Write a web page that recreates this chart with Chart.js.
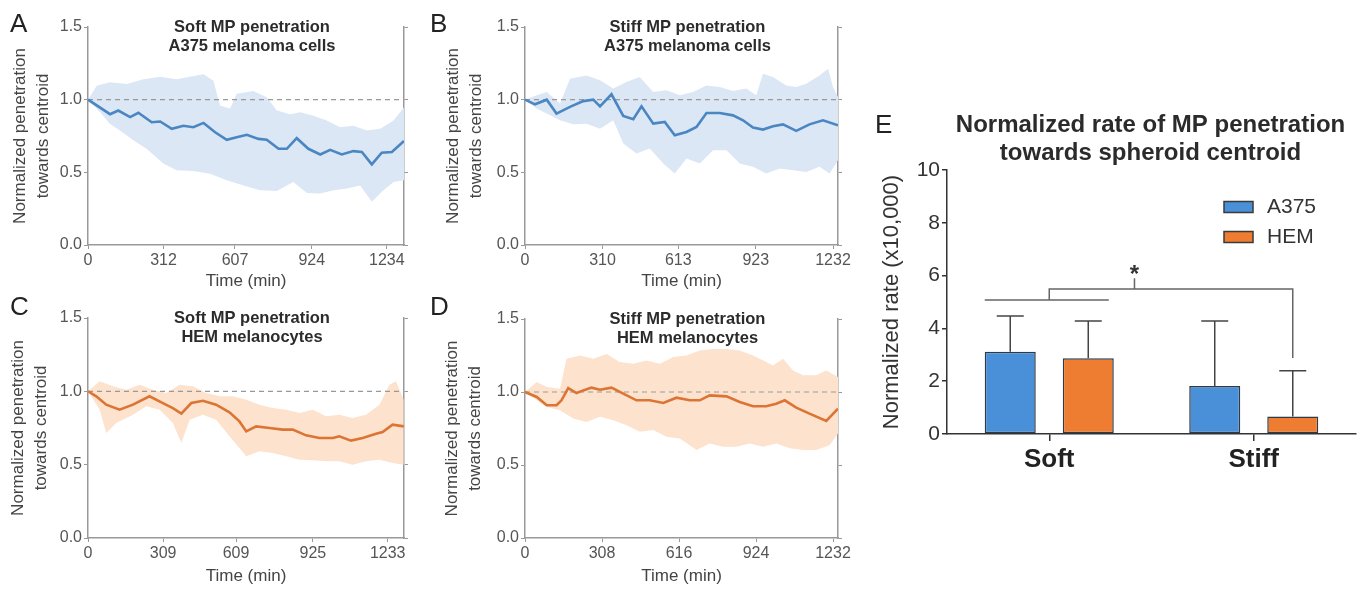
<!DOCTYPE html>
<html>
<head>
<meta charset="utf-8">
<script src="https://cdn.jsdelivr.net/npm/chart.js@4.4.0/dist/chart.umd.min.js"></script>
<style>
  body { margin: 0; background: #fff; }
  #wrap { position: relative; width: 1363px; height: 589px; background: #fff; overflow: hidden; }
  canvas { position: absolute; }
  .lt { position: absolute; font-family: 'Liberation Sans', Arial, sans-serif; font-size: 26px; line-height: 26px; color: #222; }
</style>
</head>
<body>
<div id="wrap">
  <canvas id="cA" width="420" height="290" style="left:0;top:0"></canvas>
  <canvas id="cB" width="440" height="290" style="left:420px;top:0"></canvas>
  <canvas id="cC" width="420" height="295" style="left:0;top:290px"></canvas>
  <canvas id="cD" width="440" height="295" style="left:420px;top:290px"></canvas>
  <canvas id="cE" width="503" height="405" style="left:860px;top:95px"></canvas>
  <div class="lt" style="left:10px;top:10px">A</div>
  <div class="lt" style="left:430px;top:10px">B</div>
  <div class="lt" style="left:10px;top:293px">C</div>
  <div class="lt" style="left:430px;top:293px">D</div>
  <div class="lt" style="left:875px;top:111px">E</div>
</div>
<script>
// ---- data ----
// A: soft MP, A375
var aTicks = [0, 312, 607, 924, 1234];
var aMeanT = [0,91,125,174,208,263,298,346,394,435,477,525,573,614,656,704,738,787,821,862,910,959,1000,1048,1096,1131,1172,1213,1255,1305];
var aMean  = [1.0,0.90,0.925,0.88,0.91,0.845,0.85,0.80,0.82,0.81,0.84,0.776,0.724,0.742,0.758,0.73,0.724,0.662,0.662,0.735,0.662,0.623,0.655,0.623,0.646,0.64,0.555,0.635,0.64,0.715];
var aUpT = [0,36,91,160,229,298,366,421,477,518,545,587,614,683,738,780,835,876,931,986,1041,1096,1151,1207,1262,1305];
var aUp  = [1.0,1.096,1.12,1.107,1.14,1.157,1.14,1.157,1.175,1.13,0.96,0.94,1.04,1.06,1.016,0.925,0.90,0.913,0.89,0.856,0.81,0.82,0.788,0.80,0.856,0.947];
var aLoT = [0,50,91,132,187,242,311,366,435,504,573,642,711,780,848,904,959,1014,1069,1124,1172,1220,1262,1305];
var aLo  = [1.0,0.913,0.833,0.788,0.72,0.662,0.56,0.514,0.51,0.49,0.445,0.41,0.377,0.372,0.434,0.358,0.354,0.377,0.388,0.41,0.297,0.377,0.434,0.445];

// B: stiff MP, A375
var bTicks = [0, 310, 613, 923, 1232];
var bMeanT = [0,40,87,126,180,233,273,300,346,393,433,466,513,559,599,646,686,726,779,832,872,912,952,992,1032,1085,1138,1192,1252];
var bMean  = [1.0,0.968,1.0,0.904,0.95,0.99,1.0,0.954,1.037,0.888,0.865,0.954,0.835,0.847,0.755,0.778,0.812,0.908,0.908,0.892,0.858,0.808,0.794,0.817,0.83,0.785,0.83,0.858,0.824];
var bUpT = [0,47,87,140,180,246,300,353,406,459,513,566,619,672,726,779,832,885,925,952,992,1045,1085,1125,1178,1212,1232,1252];
var bUp  = [1.0,1.03,1.053,0.973,1.144,1.167,1.133,1.076,1.121,1.156,1.053,1.064,1.03,1.053,1.098,1.087,1.06,1.076,1.03,1.178,1.156,1.098,1.087,1.11,1.167,1.213,1.087,1.018];
var bLoT = [0,47,87,140,193,246,300,353,393,446,499,553,599,646,699,752,806,859,912,965,1019,1072,1125,1178,1218,1252];
var bLo  = [1.0,0.938,0.904,0.858,0.83,0.835,0.80,0.858,0.698,0.629,0.664,0.56,0.492,0.595,0.56,0.652,0.652,0.56,0.538,0.492,0.526,0.515,0.503,0.538,0.492,0.584];

// C: soft MP, HEM
var cTicks = [0, 309, 609, 925, 1233];
var cMeanT = [0,34,75,130,185,253,308,349,384,425,473,527,582,623,651,692,747,801,842,897,952,1007,1034,1082,1130,1185,1212,1253,1299];
var cMean  = [1.0,0.966,0.909,0.875,0.909,0.966,0.92,0.886,0.848,0.92,0.936,0.909,0.857,0.795,0.727,0.761,0.75,0.739,0.739,0.70,0.682,0.682,0.693,0.664,0.682,0.711,0.723,0.773,0.761];
var cUpT = [0,48,103,158,212,267,322,377,432,486,541,596,651,705,760,815,870,925,979,1034,1089,1144,1199,1240,1267,1299];
var cUp  = [1.0,1.068,1.034,1.011,1.045,1.011,0.989,1.045,1.034,0.989,0.966,0.966,0.943,0.909,0.886,0.875,0.852,0.875,0.83,0.841,0.818,0.841,0.909,1.045,1.068,0.943];
var cLoT = [0,48,75,116,185,240,295,349,384,418,473,527,582,651,705,760,815,870,925,979,1034,1089,1144,1199,1253,1299];
var cLo  = [1.0,0.875,0.716,0.784,0.841,0.898,0.875,0.784,0.648,0.807,0.841,0.807,0.693,0.557,0.591,0.58,0.557,0.534,0.53,0.523,0.523,0.50,0.523,0.534,0.511,0.50];

// D: stiff MP, HEM
var dTicks = [0, 308, 616, 924, 1232];
var dMeanT = [0,47,87,126,146,173,206,233,266,300,346,393,446,499,553,606,659,699,739,806,859,912,965,1005,1039,1085,1138,1205,1252];
var dMean  = [1.0,0.966,0.909,0.909,0.943,1.027,0.993,1.011,1.03,1.016,1.03,0.989,0.943,0.943,0.925,0.961,0.943,0.943,0.977,0.97,0.932,0.902,0.902,0.92,0.943,0.893,0.852,0.802,0.886];
var dUpT = [0,47,87,140,166,220,273,326,379,433,486,539,593,646,699,752,806,859,912,965,992,1032,1072,1112,1165,1205,1252];
var dUp  = [1.0,1.068,1.034,1.023,1.227,1.25,1.227,1.261,1.205,1.193,1.216,1.193,1.239,1.25,1.284,1.295,1.295,1.284,1.25,1.205,1.182,1.227,1.148,1.114,1.114,1.148,1.102];
var dLoT = [0,47,87,140,193,246,300,353,406,459,513,566,619,686,739,792,845,899,952,1005,1059,1112,1165,1218,1252];
var dLo  = [1.0,0.943,0.898,0.875,0.818,0.795,0.83,0.807,0.773,0.727,0.739,0.693,0.682,0.602,0.648,0.625,0.625,0.648,0.625,0.648,0.614,0.602,0.602,0.636,0.716];

// E: normalized rate bars
var groups   = ['Soft', 'Stiff'];
var a375Rate = [3.12, 1.82];
var a375Err  = [4.47, 4.28];
var hemRate  = [2.87, 0.66];
var hemErr   = [4.28, 2.40];

Chart.defaults.font.family = "'Liberation Sans', Arial, sans-serif";

function xy(t, v) {
  return t.map(function(x, i) { return {x: x, y: v[i]}; });
}

function titlePlugin(lines, font, gap, dx, dy) {
  return {
    id: 'panelTitle',
    afterDraw: function(chart) {
      var ctx = chart.ctx, a = chart.chartArea;
      ctx.save();
      ctx.font = font;
      ctx.fillStyle = '#2b2b2b';
      ctx.textAlign = 'center';
      ctx.textBaseline = 'middle';
      var cx = (a.left + a.right) / 2 + dx;
      lines.forEach(function(t, i) { ctx.fillText(t, cx, a.top + dy + i * gap); });
      ctx.restore();
    }
  };
}

var BLUE = {line: '#4a86c2', band: '#dbe7f4'};
var ORANGE = {line: '#dc7434', band: '#fde2cd'};

function linePanel(id, o) {
  return new Chart(document.getElementById(id), {
    type: 'line',
    data: {
      datasets: [
        {label: 'mean', data: xy(o.mt, o.m), borderColor: o.col.line, borderWidth: 2.6, pointRadius: 0, fill: false},
        {label: 'ref', data: [{x: 0, y: 1}, {x: o.max, y: 1}], borderColor: '#999', borderWidth: 1.2, borderDash: [5, 4], pointRadius: 0, fill: false},
        {label: 'upper', data: xy(o.ut, o.u), borderWidth: 0, borderColor: 'rgba(0,0,0,0)', backgroundColor: o.col.band, pointRadius: 0, fill: '+1'},
        {label: 'lower', data: xy(o.lt, o.l), borderWidth: 0, borderColor: 'rgba(0,0,0,0)', pointRadius: 0, fill: false}
      ]
    },
    options: {
      responsive: false,
      animation: false,
      layout: {padding: {left: 0, right: 0, top: o.top, bottom: 0}},
      plugins: {legend: {display: false}, tooltip: {enabled: false}},
      scales: {
        x: {
          type: 'linear', min: 0, max: o.max,
          afterBuildTicks: function(s) { s.ticks = o.xt.map(function(v) { return {value: v}; }); },
          afterFit: function(s) { s.height = o.xh; },
          grid: {drawOnChartArea: false, tickLength: 4, color: '#999'},
          border: {color: '#999', width: 1.5},
          ticks: {font: {size: 16}, color: '#555', padding: 2, maxRotation: 0, autoSkip: false, callback: function(v) { return String(v); }},
          title: {display: true, text: 'Time (min)', color: '#444', font: {size: 17, lineHeight: 1}, padding: {top: 0, bottom: 0}}
        },
        y: {
          min: 0, max: 1.5,
          afterFit: function(s) { s.width = o.yw; },
          grid: {drawOnChartArea: false, tickLength: 4, color: '#999'},
          border: {color: '#999', width: 1.5},
          ticks: {stepSize: 0.5, font: {size: 16}, color: '#555', padding: 2, callback: function(v) { return v.toFixed(1); }},
          title: {display: true, text: ['Normalized penetration', 'towards centroid'], color: '#444', font: {size: 17, lineHeight: 1.35}, padding: {top: o.tp, bottom: 0}}
        },
        y2: {
          position: 'right', min: 0, max: 1.5,
          afterFit: function(s) { s.width = o.rw; },
          grid: {drawOnChartArea: false, tickLength: 4, color: '#999'},
          border: {color: '#999', width: 1.5},
          ticks: {display: false, stepSize: 0.5}
        }
      }
    },
    plugins: [titlePlugin(o.title, 'bold 16.5px "Liberation Sans", Arial, sans-serif', 19, 6, 0)]
  });
}

linePanel('cA', {xt: aTicks, max: 1305, mt: aMeanT, m: aMean, ut: aUpT, u: aUp, lt: aLoT, l: aLo, col: BLUE,
  top: 27, xh: 45, yw: 88, rw: 16, tp: 8.5, title: ['Soft MP penetration', 'A375 melanoma cells']});
linePanel('cB', {xt: bTicks, max: 1252, mt: bMeanT, m: bMean, ut: bUpT, u: bUp, lt: bLoT, l: bLo, col: BLUE,
  top: 27, xh: 45, yw: 105, rw: 22, tp: 21.5, title: ['Stiff MP penetration', 'A375 melanoma cells']});
linePanel('cC', {xt: cTicks, max: 1300, mt: cMeanT, m: cMean, ut: cUpT, u: cUp, lt: cLoT, l: cLo, col: ORANGE,
  top: 28, xh: 47, yw: 88, rw: 16, tp: 7, title: ['Soft MP penetration', 'HEM melanocytes']});
linePanel('cD', {xt: dTicks, max: 1252, mt: dMeanT, m: dMean, ut: dUpT, u: dUp, lt: dLoT, l: dLo, col: ORANGE,
  top: 29, xh: 47, yw: 105, rw: 22, tp: 20.5, title: ['Stiff MP penetration', 'HEM melanocytes']});

// error bars, significance bracket and legend for panel E
var barExtras = {
  id: 'barExtras',
  afterDatasetsDraw: function(chart) {
    var ctx = chart.ctx, y = chart.scales.y, x = chart.scales.x;
    ctx.save();
    ctx.strokeStyle = '#444';
    ctx.lineWidth = 1.5;
    chart.data.datasets.forEach(function(ds, i) {
      chart.getDatasetMeta(i).data.forEach(function(bar, j) {
        var top = y.getPixelForValue(ds.errors[j]);
        ctx.beginPath();
        ctx.moveTo(bar.x, bar.y);
        ctx.lineTo(bar.x, top);
        ctx.moveTo(bar.x - 13.5, top);
        ctx.lineTo(bar.x + 13.5, top);
        ctx.stroke();
      });
    });
    // bracket: soft group vs stiff HEM
    var softA = chart.getDatasetMeta(0).data[0], softH = chart.getDatasetMeta(1).data[0];
    var stiffH = chart.getDatasetMeta(1).data[1];
    var yLine = y.getPixelForValue(5.08), yBr = y.getPixelForValue(5.49), yTip = y.getPixelForValue(5.9);
    var left = x.getPixelForValue(0), right = stiffH.x;
    var mid = left + (right - left) * 0.35;
    ctx.strokeStyle = '#666';
    ctx.beginPath();
    ctx.moveTo(softA.x - softA.width / 2, yLine);
    ctx.lineTo(softH.x + softH.width / 2 - 5, yLine);
    ctx.moveTo(left, yLine);
    ctx.lineTo(left, yBr);
    ctx.lineTo(right, yBr);
    ctx.lineTo(right, y.getPixelForValue(2.88));
    ctx.moveTo(mid, yBr);
    ctx.lineTo(mid, yTip);
    ctx.stroke();
    ctx.fillStyle = '#333';
    ctx.font = 'bold 24px "Liberation Sans", Arial, sans-serif';
    ctx.textAlign = 'center';
    ctx.textBaseline = 'alphabetic';
    ctx.fillText('*', mid, yTip + 4);
    // legend
    ctx.font = '21px "Liberation Sans", Arial, sans-serif';
    ctx.textAlign = 'left';
    ctx.textBaseline = 'middle';
    chart.data.datasets.forEach(function(ds, i) {
      var cy = 112 + i * 30;
      ctx.fillStyle = ds.backgroundColor;
      ctx.fillRect(364, cy - 5.5, 29, 11);
      ctx.strokeStyle = '#3a3a3a';
      ctx.lineWidth = 1.5;
      ctx.strokeRect(364, cy - 5.5, 29, 11);
      ctx.fillStyle = '#333';
      ctx.fillText(ds.label, 407, cy);
    });
    ctx.restore();
  }
};

new Chart(document.getElementById('cE'), {
  type: 'bar',
  data: {
    labels: groups,
    datasets: [
      {label: 'A375', data: a375Rate, errors: a375Err, backgroundColor: '#4a90d9', borderColor: '#2e3a46', borderWidth: 1.5, borderSkipped: false, categoryPercentage: 0.763, barPercentage: 0.654},
      {label: 'HEM', data: hemRate, errors: hemErr, backgroundColor: '#ee7d31', borderColor: '#2e3a46', borderWidth: 1.5, borderSkipped: false, categoryPercentage: 0.763, barPercentage: 0.654}
    ]
  },
  options: {
    responsive: false,
    animation: false,
    layout: {padding: {left: 0, right: 7, top: 75, bottom: 0}},
    plugins: {legend: {display: false}, tooltip: {enabled: false}},
    scales: {
      x: {
        afterFit: function(s) { s.height = 66; },
        grid: {offset: false, drawOnChartArea: false, tickLength: 7, color: '#333', lineWidth: 1.5},
        border: {color: '#333', width: 1.5},
        ticks: {font: {size: 26, weight: 'bold'}, color: '#222', padding: 3}
      },
      y: {
        min: 0, max: 10,
        afterFit: function(s) { s.width = 87; },
        grid: {drawOnChartArea: false, tickLength: 5, color: '#333', lineWidth: 1.5},
        border: {color: '#333', width: 1.5},
        ticks: {stepSize: 2, font: {size: 21}, color: '#333', padding: 2},
        title: {display: true, text: 'Normalized rate (x10,000)', color: '#333', font: {size: 22, lineHeight: 1.2}, padding: {top: 19, bottom: 0}}
      }
    }
  },
  plugins: [barExtras, titlePlugin(['Normalized rate of MP penetration', 'towards spheroid centroid'], 'bold 24px "Liberation Sans", Arial, sans-serif', 28, -1, -45)]
});
</script>
</body>
</html>
